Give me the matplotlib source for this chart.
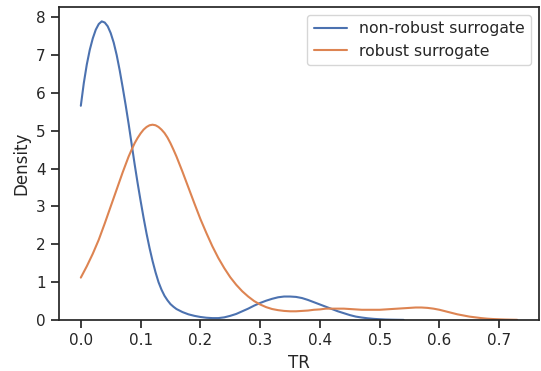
import matplotlib
matplotlib.use("Agg")
import matplotlib.pyplot as plt
import seaborn as sns

# density curves
tr_nonrobust = [0.000, 0.005, 0.010, 0.015, 0.020, 0.025, 0.030, 0.035, 0.040, 0.045,
                0.050, 0.055, 0.060, 0.065, 0.070, 0.075, 0.080, 0.085, 0.090, 0.095,
                0.100, 0.105, 0.110, 0.115, 0.120, 0.125, 0.130, 0.135, 0.140, 0.145,
                0.150, 0.155, 0.160, 0.165, 0.170, 0.175, 0.180, 0.185, 0.190, 0.195,
                0.20, 0.21, 0.22, 0.23, 0.24, 0.25, 0.26, 0.27, 0.28, 0.29,
                0.30, 0.31, 0.32, 0.33, 0.34, 0.35, 0.36, 0.37, 0.38, 0.39,
                0.40, 0.41, 0.42, 0.43, 0.44, 0.45, 0.46, 0.47, 0.48, 0.49,
                0.50, 0.51, 0.52, 0.53, 0.54]
dens_nonrobust = [5.66, 6.26, 6.75, 7.14, 7.44, 7.67, 7.82, 7.89, 7.86, 7.76,
                  7.58, 7.33, 7.00, 6.60, 6.15, 5.68, 5.18, 4.65, 4.12, 3.62,
                  3.15, 2.70, 2.28, 1.90, 1.56, 1.26, 1.00, 0.80, 0.64, 0.52,
                  0.42, 0.35, 0.29, 0.25, 0.21, 0.18, 0.15, 0.13, 0.11, 0.095,
                  0.08, 0.06, 0.05, 0.05, 0.07, 0.11, 0.16, 0.23, 0.30, 0.38,
                  0.45, 0.51, 0.56, 0.60, 0.62, 0.62, 0.61, 0.58, 0.53, 0.47,
                  0.41, 0.35, 0.29, 0.23, 0.18, 0.13, 0.09, 0.065, 0.045, 0.03,
                  0.02, 0.012, 0.008, 0.005, 0.003]

tr_robust = [0.00, 0.01, 0.02, 0.03, 0.04, 0.05, 0.06, 0.07,
             0.080, 0.085, 0.090, 0.095, 0.100, 0.105, 0.110, 0.115, 0.120, 0.125,
             0.130, 0.135, 0.140, 0.145, 0.150, 0.155, 0.160, 0.17, 0.18, 0.19,
             0.20, 0.21, 0.22, 0.23, 0.24, 0.25, 0.26, 0.27, 0.28, 0.29,
             0.30, 0.31, 0.32, 0.33, 0.34, 0.35, 0.36, 0.37, 0.38, 0.39,
             0.40, 0.41, 0.42, 0.43, 0.44, 0.45, 0.46, 0.47, 0.48, 0.49,
             0.50, 0.51, 0.52, 0.53, 0.54, 0.55, 0.56, 0.57, 0.58, 0.59,
             0.60, 0.61, 0.62, 0.63, 0.64, 0.65, 0.66, 0.67, 0.68, 0.69,
             0.70, 0.71, 0.72, 0.73]
dens_robust = [1.12, 1.42, 1.75, 2.12, 2.55, 3.00, 3.45, 3.90,
               4.32, 4.50, 4.67, 4.81, 4.93, 5.03, 5.10, 5.145, 5.16, 5.145,
               5.10, 5.03, 4.94, 4.82, 4.67, 4.50, 4.32, 3.92, 3.50, 3.08,
               2.67, 2.30, 1.95, 1.64, 1.37, 1.13, 0.93, 0.76, 0.62, 0.50,
               0.41, 0.34, 0.29, 0.26, 0.24, 0.23, 0.23, 0.24, 0.25, 0.27,
               0.28, 0.30, 0.30, 0.30, 0.30, 0.29, 0.28, 0.27, 0.27, 0.27,
               0.27, 0.28, 0.29, 0.30, 0.31, 0.32, 0.33, 0.33, 0.32, 0.30,
               0.27, 0.23, 0.19, 0.15, 0.12, 0.09, 0.07, 0.05, 0.035, 0.025,
               0.018, 0.012, 0.008, 0.005]

labels = ["non-robust surrogate", "robust surrogate"]
xticks = [0.0, 0.1, 0.2, 0.3, 0.4, 0.5, 0.6, 0.7]
yticks = [0, 1, 2, 3, 4, 5, 6, 7, 8]

sns.set_theme(style="ticks")
plt.rcParams["font.family"] = ["DejaVu Sans"]
pal = sns.color_palette("deep")

fig = plt.figure(figsize=(5.41, 3.71), dpi=100)
ax = fig.add_axes([59 / 541, (371 - 320) / 371, 480 / 541, 313 / 371])

ax.plot(tr_nonrobust, dens_nonrobust, color=pal[0], lw=1.5, label=labels[0],
        solid_joinstyle="round")
ax.plot(tr_robust, dens_robust, color=pal[1], lw=1.5, label=labels[1],
        solid_joinstyle="round")

ax.set_xlim(-0.0365, 0.7665)
ax.set_ylim(0, 8.27)
ax.set_xticks(xticks)
ax.set_yticks(yticks)
ax.set_xlabel("TR")
ax.set_ylabel("Density")
ax.legend(loc="upper right", fontsize=11.3, handlelength=2.1)

fig.savefig("out.png", dpi=100)
